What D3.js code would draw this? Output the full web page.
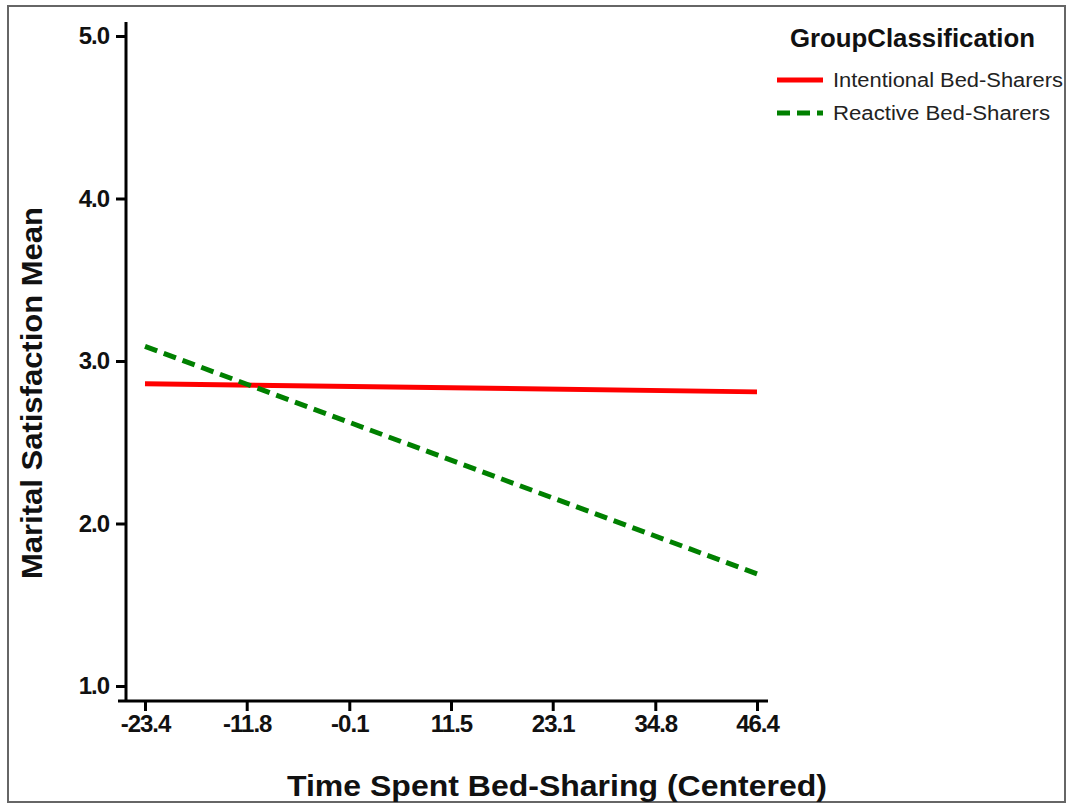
<!DOCTYPE html>
<html>
<head>
<meta charset="utf-8">
<script src="https://cdn.jsdelivr.net/npm/d3@7"></script>
<style>
  body { margin: 0; background: #fff; }
  svg { display: block; font-family: "Liberation Sans", Arial, sans-serif; }
</style>
</head>
<body>
<svg id="chart" width="1069" height="806"></svg>
<script>
// chart data
const xTicks = [-23.4, -11.8, -0.1, 11.5, 23.1, 34.8, 46.4];
const yTicks = [1, 2, 3, 4, 5];
const groups = ["Intentional Bed-Sharers", "Reactive Bed-Sharers"];
const intentional = [[-23.4, 2.86], [46.4, 2.81]];
const reactive = [[-23.4, 3.09], [46.4, 1.69]];

const svg = d3.select('#chart');

// outer frame
svg.append('rect')
  .attr('x', 8).attr('y', 6)
  .attr('width', 1057).attr('height', 796)
  .attr('fill', 'none').attr('stroke', '#666').attr('stroke-width', 2);

const x = d3.scaleLinear().domain([-23.4, 46.4]).range([145, 757]);
const y = d3.scaleLinear().domain([1, 5]).range([686, 36]);
const fmt = d => d.toFixed(1); // plain hyphen for negatives

// axes
const xAxis = svg.append('g')
  .attr('transform', 'translate(0,701)')
  .call(d3.axisBottom(x).tickValues(xTicks).tickSize(10).tickSizeOuter(0).tickFormat(fmt));
xAxis.select('.domain').attr('d', 'M118,0H768');

const yAxis = svg.append('g')
  .attr('transform', 'translate(126,0)')
  .call(d3.axisLeft(y).tickValues(yTicks).tickSize(10).tickSizeOuter(0).tickFormat(fmt));
yAxis.select('.domain').attr('d', 'M0,22V701');

svg.selectAll('.domain, .tick line').attr('stroke', '#000').attr('stroke-width', 3);
svg.selectAll('.tick text')
  .attr('fill', '#111')
  .style('font-size', '24px')
  .style('font-weight', 'bold')
  .style('font-family', '"Liberation Sans", Arial, sans-serif')
  .style('letter-spacing', '-1px');
xAxis.selectAll('.tick text').attr('y', 14).attr('dy', '0.71em');
yAxis.selectAll('.tick text').attr('x', -17);

// axis titles
svg.append('text')
  .attr('x', 557).attr('y', 796)
  .attr('text-anchor', 'middle')
  .attr('fill', '#111')
  .attr('textLength', 540).attr('lengthAdjust', 'spacingAndGlyphs')
  .style('font-size', '30px').style('font-weight', 'bold')
  .text('Time Spent Bed-Sharing (Centered)');

svg.append('text')
  .attr('transform', 'translate(42,393) rotate(-90)')
  .attr('text-anchor', 'middle')
  .attr('fill', '#111')
  .attr('textLength', 372).attr('lengthAdjust', 'spacingAndGlyphs')
  .style('font-size', '30px').style('font-weight', 'bold')
  .text('Marital Satisfaction Mean');

// lines
const line = d3.line().x(d => x(d[0])).y(d => y(d[1]));

svg.append('path')
  .datum(intentional)
  .attr('d', line)
  .attr('fill', 'none')
  .attr('stroke', '#ff0000')
  .attr('stroke-width', 5);

svg.append('path')
  .datum(reactive)
  .attr('d', line)
  .attr('fill', 'none')
  .attr('stroke', '#008000')
  .attr('stroke-width', 5)
  .attr('stroke-dasharray', '13,7');

// legend
const legend = svg.append('g');
legend.append('text')
  .attr('x', 790).attr('y', 47)
  .attr('textLength', 245).attr('lengthAdjust', 'spacingAndGlyphs')
  .style('font-size', '25px').style('font-weight', 'bold')
  .attr('fill', '#111')
  .text('GroupClassification');

const styles = [
  { color: '#ff0000', dash: null, len: 230 },
  { color: '#008000', dash: '13,7', len: 217 }
];

groups.forEach((g, i) => {
  const ly = 80 + i * 33;
  legend.append('line')
    .attr('x1', 777).attr('x2', 823)
    .attr('y1', ly).attr('y2', ly)
    .attr('stroke', styles[i].color)
    .attr('stroke-width', 5)
    .attr('stroke-dasharray', styles[i].dash);
  legend.append('text')
    .attr('x', 833).attr('y', ly + 7)
    .attr('textLength', styles[i].len).attr('lengthAdjust', 'spacingAndGlyphs')
    .style('font-size', '20px')
    .attr('fill', '#222')
    .text(g);
});
</script>
</body>
</html>
